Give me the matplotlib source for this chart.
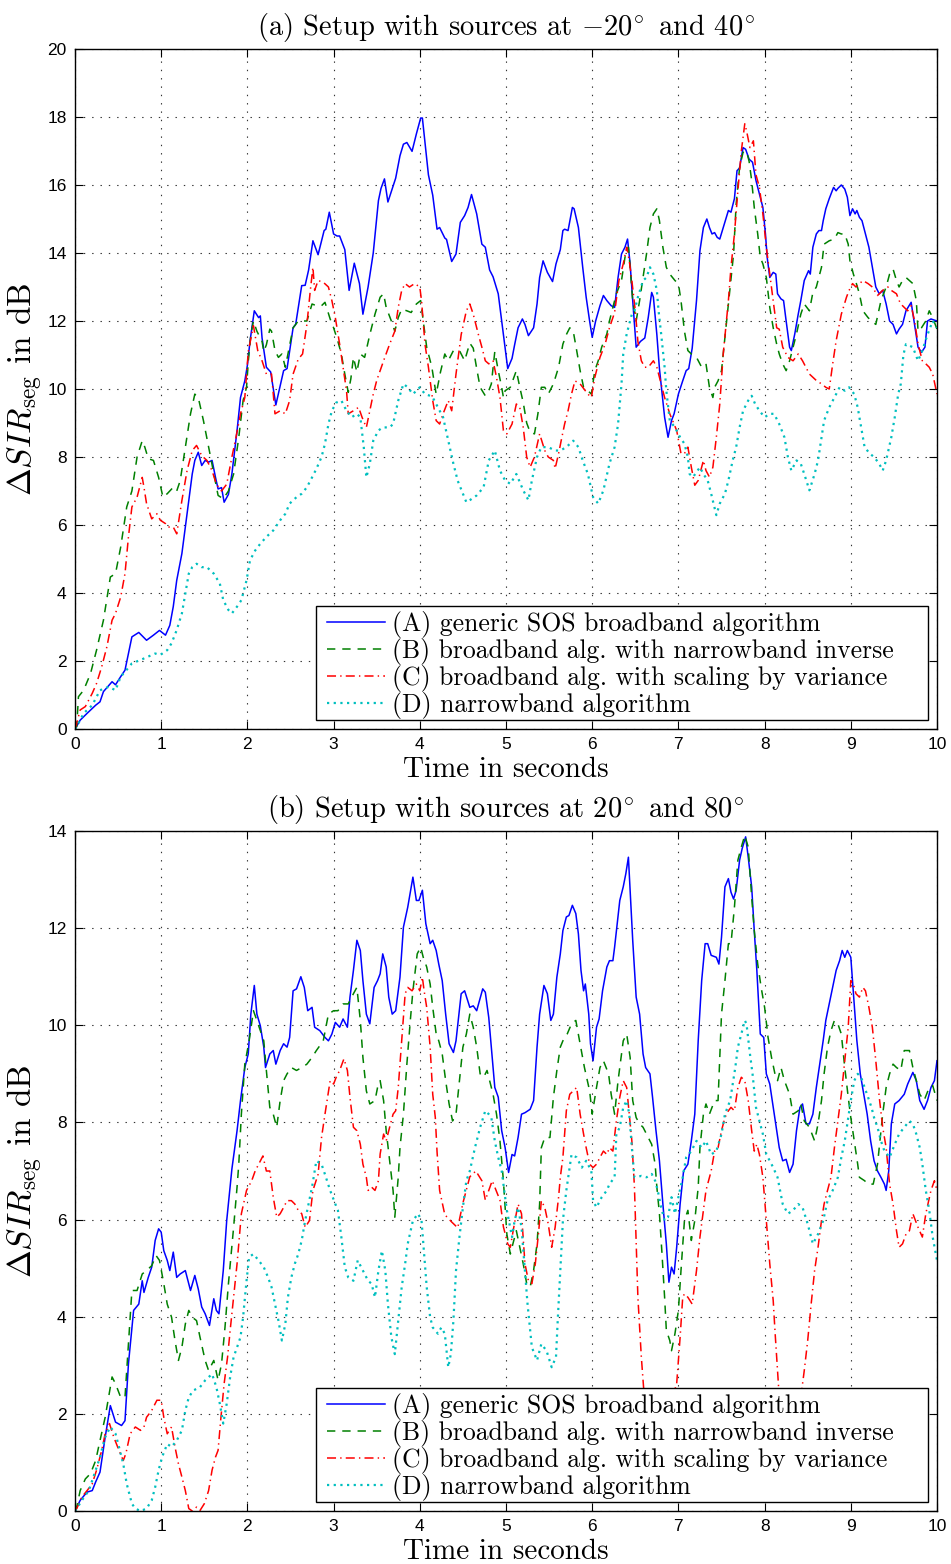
import matplotlib
matplotlib.use("Agg")
import matplotlib.pyplot as plt
from matplotlib.patches import Rectangle
from matplotlib.ticker import MultipleLocator

plt.rcParams["mathtext.fontset"] = "cm"
plt.rcParams["lines.scale_dashes"] = False

# ---------------- (a) sources at -20 and 40 degrees ----------------
a_t_A = [0, 0.06, 0.14, 0.24, 0.29, 0.33, 0.43, 0.47, 0.53, 0.58, 0.62, 0.66, 0.74, 0.83, 0.91, 0.98,
         1.05, 1.10, 1.14, 1.18, 1.24, 1.30, 1.36, 1.39, 1.43, 1.47, 1.51, 1.55, 1.59, 1.63, 1.66, 1.70,
         1.73, 1.78, 1.82, 1.88, 1.92, 1.97, 2.00, 2.03, 2.08, 2.13, 2.15, 2.17, 2.22, 2.27, 2.33, 2.42,
         2.46, 2.53, 2.56, 2.63, 2.67, 2.71, 2.76, 2.82, 2.89, 2.91, 2.95, 3.00, 3.04, 3.07, 3.13, 3.18,
         3.24, 3.30, 3.34, 3.40, 3.46, 3.52, 3.55, 3.59, 3.63, 3.72, 3.77, 3.81, 3.85, 3.91, 3.96, 4.01,
         4.03, 4.10, 4.15, 4.20, 4.23, 4.29, 4.31, 4.37, 4.42, 4.47, 4.52, 4.56, 4.60, 4.66, 4.72, 4.76,
         4.81, 4.85, 4.91, 4.95, 4.99, 5.02, 5.07, 5.10, 5.14, 5.19, 5.22, 5.26, 5.32, 5.36, 5.39, 5.43,
         5.48, 5.54, 5.58, 5.63, 5.66, 5.68, 5.72, 5.77, 5.79, 5.84, 5.89, 5.93, 5.97, 6.00, 6.04, 6.09,
         6.13, 6.17, 6.22, 6.26, 6.30, 6.34, 6.38, 6.41, 6.44, 6.47, 6.51, 6.56, 6.61, 6.65, 6.69, 6.71,
         6.75, 6.78, 6.82, 6.84, 6.88, 6.92, 6.95, 7.00, 7.05, 7.09, 7.12, 7.16, 7.21, 7.25, 7.29, 7.33,
         7.36, 7.39, 7.42, 7.45, 7.48, 7.52, 7.58, 7.61, 7.65, 7.68, 7.71, 7.75, 7.78, 7.82, 7.86, 7.90,
         7.94, 7.98, 8.01, 8.03, 8.06, 8.10, 8.13, 8.15, 8.19, 8.22, 8.25, 8.29, 8.31, 8.35, 8.39, 8.42,
         8.46, 8.51, 8.53, 8.56, 8.60, 8.63, 8.66, 8.68, 8.71, 8.75, 8.80, 8.83, 8.85, 8.89, 8.93, 8.96,
         8.99, 9.02, 9.05, 9.07, 9.10, 9.13, 9.17, 9.21, 9.25, 9.29, 9.33, 9.37, 9.41, 9.45, 9.49, 9.53,
         9.56, 9.60, 9.64, 9.70, 9.74, 9.78, 9.82, 9.86, 9.89, 9.93, 10.0]
a_A = [0, 0.26, 0.46, 0.70, 0.80, 1.10, 1.39, 1.30, 1.54, 1.73, 2.22, 2.71, 2.84, 2.61, 2.76, 2.90,
       2.76, 3.05, 3.60, 4.37, 5.16, 6.33, 7.50, 7.90, 8.14, 7.75, 7.90, 7.85, 7.90, 7.40, 7.06, 7.10,
       6.67, 6.90, 7.50, 8.78, 9.75, 10.24, 10.70, 11.40, 12.30, 12.10, 12.15, 11.50, 10.64, 10.50, 9.53, 10.54,
       10.60, 11.80, 11.90, 13.04, 13.05, 13.50, 14.36, 13.95, 14.66, 14.70, 15.20, 14.56, 14.50, 14.50, 14.10, 12.90,
       13.70, 13.10, 12.20, 13.00, 14.00, 15.54, 15.90, 16.18, 15.50, 16.20, 16.86, 17.20, 17.25, 16.99, 17.50, 17.97,
       17.97, 16.30, 15.70, 14.70, 14.75, 14.44, 14.40, 13.75, 13.97, 14.90, 15.10, 15.34, 15.72, 15.15, 14.26, 14.17,
       13.50, 13.30, 12.80, 12.00, 11.20, 10.60, 10.90, 11.30, 11.80, 12.06, 11.90, 11.57, 11.80, 12.50, 13.28, 13.77,
       13.43, 13.16, 13.68, 14.10, 14.66, 14.70, 14.66, 15.34, 15.30, 14.75, 13.58, 12.70, 12.00, 11.52, 12.00, 12.45,
       12.75, 12.60, 12.45, 12.40, 13.28, 13.97, 14.17, 14.41, 13.68, 12.60, 11.23, 11.40, 11.50, 12.10, 12.84, 12.70,
       11.60, 10.60, 9.66, 9.17, 8.58, 9.07, 9.27, 9.85, 10.24, 10.54, 10.60, 11.20, 12.60, 14.07, 14.75, 15.00,
       14.75, 14.56, 14.60, 14.46, 14.41, 14.75, 15.25, 15.20, 15.60, 16.42, 16.50, 17.10, 17.05, 16.76, 16.67, 16.13,
       15.74, 15.34, 14.56, 13.87, 13.28, 13.43, 13.38, 12.80, 12.65, 12.60, 12.00, 11.23, 11.13, 11.62, 12.20, 12.60,
       13.19, 13.48, 13.38, 14.17, 14.56, 14.66, 14.66, 14.95, 15.30, 15.60, 15.93, 15.83, 15.90, 16.00, 15.88, 15.64,
       15.10, 15.30, 15.15, 15.25, 15.05, 14.95, 14.56, 14.17, 13.58, 13.00, 12.80, 12.90, 12.50, 12.00, 11.90, 11.62,
       11.76, 11.90, 12.30, 12.55, 11.90, 11.23, 11.08, 11.23, 12.00, 12.06, 12.00]

a_t_B = [0, 0.02, 0.04, 0.10, 0.18, 0.25, 0.33, 0.41, 0.47, 0.53, 0.60, 0.66, 0.72, 0.78, 0.81, 0.85,
         0.91, 0.97, 1.02, 1.07, 1.14, 1.18, 1.22, 1.28, 1.34, 1.39, 1.43, 1.49, 1.55, 1.61, 1.66, 1.72,
         1.78, 1.84, 1.90, 1.95, 1.99, 2.01, 2.04, 2.07, 2.11, 2.17, 2.19, 2.22, 2.26, 2.28, 2.32, 2.36,
         2.40, 2.44, 2.47, 2.53, 2.59, 2.63, 2.69, 2.75, 2.80, 2.86, 2.90, 2.96, 3.00, 3.05, 3.09, 3.13,
         3.17, 3.20, 3.23, 3.27, 3.31, 3.36, 3.42, 3.48, 3.54, 3.58, 3.61, 3.67, 3.71, 3.75, 3.79, 3.85,
         3.90, 3.96, 4.01, 4.04, 4.08, 4.14, 4.17, 4.19, 4.24, 4.29, 4.33, 4.39, 4.46, 4.52, 4.58, 4.62,
         4.66, 4.70, 4.76, 4.80, 4.83, 4.87, 4.91, 4.95, 4.97, 4.99, 5.05, 5.12, 5.16, 5.20, 5.24, 5.28,
         5.33, 5.37, 5.41, 5.45, 5.49, 5.55, 5.61, 5.66, 5.70, 5.74, 5.78, 5.82, 5.86, 5.90, 5.93, 5.99,
         6.03, 6.07, 6.11, 6.17, 6.20, 6.24, 6.28, 6.34, 6.38, 6.42, 6.44, 6.47, 6.51, 6.55, 6.59, 6.63,
         6.67, 6.71, 6.75, 6.78, 6.82, 6.86, 6.90, 6.96, 7.00, 7.03, 7.07, 7.11, 7.15, 7.21, 7.27, 7.32,
         7.36, 7.40, 7.42, 7.46, 7.50, 7.56, 7.60, 7.64, 7.67, 7.71, 7.75, 7.79, 7.82, 7.85, 7.88, 7.92,
         7.95, 7.98, 8.02, 8.06, 8.10, 8.14, 8.17, 8.21, 8.25, 8.29, 8.33, 8.37, 8.42, 8.46, 8.52, 8.56,
         8.60, 8.66, 8.69, 8.75, 8.81, 8.85, 8.89, 8.93, 8.97, 8.99, 9.03, 9.06, 9.10, 9.14, 9.20, 9.24,
         9.29, 9.35, 9.41, 9.45, 9.49, 9.53, 9.56, 9.60, 9.64, 9.68, 9.72, 9.76, 9.78, 9.82, 9.87, 9.91,
         9.95, 10.0]
a_B = [0, 0.07, 0.95, 1.14, 1.63, 2.32, 3.20, 4.47, 4.57, 5.35, 6.53, 7.00, 8.00, 8.48, 8.29, 7.95,
       7.90, 7.40, 6.82, 6.92, 7.11, 7.00, 7.30, 8.29, 9.27, 9.85, 9.75, 9.07, 8.29, 7.50, 6.87, 6.77,
       7.00, 7.50, 8.58, 9.66, 10.05, 10.80, 11.60, 12.00, 11.70, 11.40, 11.10, 11.30, 11.76, 11.70, 11.13, 10.93,
       11.03, 10.64, 11.03, 11.80, 12.00, 12.00, 12.00, 12.50, 12.45, 12.45, 12.55, 12.06, 11.80, 11.40, 11.03, 10.44,
       9.90, 10.30, 10.93, 10.50, 11.03, 10.93, 11.60, 12.20, 12.70, 12.80, 12.40, 12.00, 11.70, 12.10, 12.35, 12.30,
       12.25, 12.50, 12.60, 12.00, 11.23, 10.64, 10.15, 9.85, 10.50, 11.03, 10.83, 11.13, 11.13, 10.83, 11.35, 11.20,
       10.60, 10.05, 9.80, 9.95, 10.15, 11.10, 10.54, 10.05, 9.75, 9.95, 10.05, 10.54, 10.05, 9.60, 9.00, 8.73,
       8.68, 9.27, 10.05, 10.05, 9.85, 10.15, 10.64, 11.32, 11.60, 11.80, 11.70, 11.13, 10.54, 10.05, 10.00, 9.85,
       10.54, 10.83, 11.23, 11.62, 12.00, 12.40, 12.80, 13.19, 13.87, 14.17, 13.58, 12.60, 12.00, 12.60, 13.28, 13.97,
       14.75, 15.15, 15.30, 14.95, 14.17, 13.58, 13.38, 13.19, 13.10, 12.60, 11.70, 11.13, 11.03, 10.93, 10.64, 10.74,
       10.05, 9.75, 10.05, 10.24, 10.54, 12.00, 13.00, 13.97, 15.44, 16.52, 16.96, 17.00, 16.70, 16.13, 15.34, 14.56,
       13.87, 13.68, 13.28, 12.40, 11.80, 11.32, 11.03, 10.74, 10.54, 10.83, 11.23, 11.62, 12.20, 12.50, 12.30, 12.84,
       13.00, 13.58, 14.26, 14.36, 14.41, 14.60, 14.56, 14.56, 14.26, 13.77, 13.38, 13.14, 12.80, 12.30, 12.10, 12.00,
       11.90, 12.60, 13.00, 13.38, 13.53, 13.19, 13.00, 13.19, 13.28, 13.19, 13.10, 12.60, 11.70, 11.80, 12.00, 12.30,
       12.10, 11.76]

a_t_C = [0, 0.02, 0.06, 0.12, 0.20, 0.25, 0.31, 0.37, 0.43, 0.47, 0.53, 0.58, 0.62, 0.66, 0.72, 0.78,
         0.80, 0.83, 0.89, 0.95, 0.99, 1.05, 1.08, 1.14, 1.18, 1.24, 1.30, 1.36, 1.41, 1.47, 1.53, 1.59,
         1.64, 1.70, 1.76, 1.82, 1.86, 1.92, 1.97, 2.01, 2.07, 2.12, 2.17, 2.22, 2.28, 2.32, 2.38, 2.44,
         2.49, 2.53, 2.59, 2.64, 2.69, 2.73, 2.76, 2.78, 2.82, 2.88, 2.94, 2.98, 3.02, 3.07, 3.11, 3.15,
         3.17, 3.23, 3.29, 3.33, 3.38, 3.42, 3.46, 3.50, 3.58, 3.65, 3.71, 3.75, 3.79, 3.83, 3.88, 3.94,
         4.00, 4.02, 4.06, 4.10, 4.15, 4.19, 4.23, 4.27, 4.33, 4.37, 4.42, 4.48, 4.54, 4.58, 4.62, 4.68,
         4.72, 4.76, 4.80, 4.85, 4.89, 4.93, 4.97, 5.01, 5.07, 5.12, 5.16, 5.20, 5.24, 5.28, 5.33, 5.39,
         5.45, 5.49, 5.55, 5.57, 5.61, 5.64, 5.68, 5.72, 5.76, 5.80, 5.86, 5.92, 5.95, 5.99, 6.03, 6.09,
         6.15, 6.20, 6.26, 6.31, 6.36, 6.40, 6.43, 6.46, 6.50, 6.53, 6.57, 6.61, 6.65, 6.71, 6.75, 6.80,
         6.84, 6.90, 6.98, 7.03, 7.07, 7.11, 7.15, 7.19, 7.23, 7.29, 7.32, 7.36, 7.40, 7.44, 7.48, 7.52,
         7.58, 7.61, 7.65, 7.69, 7.73, 7.77, 7.79, 7.83, 7.87, 7.90, 7.94, 7.98, 8.02, 8.06, 8.10, 8.14,
         8.17, 8.21, 8.27, 8.33, 8.39, 8.44, 8.52, 8.60, 8.66, 8.71, 8.75, 8.79, 8.83, 8.89, 8.95, 8.98,
         9.02, 9.06, 9.14, 9.20, 9.25, 9.31, 9.37, 9.43, 9.47, 9.53, 9.56, 9.60, 9.66, 9.70, 9.74, 9.78,
         9.83, 9.87, 9.91, 9.95, 10.0]
a_C = [0, 0.17, 0.56, 0.66, 1.05, 1.34, 1.83, 2.42, 3.20, 3.40, 3.88, 4.57, 5.65, 6.53, 6.82, 7.40,
       7.11, 6.63, 6.18, 6.33, 6.14, 6.04, 5.94, 5.94, 5.74, 6.72, 7.60, 8.19, 8.34, 8.04, 7.90, 7.60,
       7.20, 7.00, 7.20, 8.00, 8.48, 9.27, 9.75, 11.10, 11.86, 11.13, 10.83, 10.44, 10.44, 9.27, 9.36, 9.27,
       9.66, 10.44, 10.88, 11.03, 11.90, 12.90, 13.58, 12.90, 13.19, 13.14, 13.00, 12.60, 12.10, 11.32, 10.64, 9.95,
       9.27, 9.36, 9.46, 9.17, 8.87, 9.36, 9.85, 10.25, 10.83, 11.32, 11.70, 12.40, 12.90, 13.10, 13.00, 13.10,
       13.00, 12.60, 11.32, 10.64, 9.66, 9.07, 8.97, 9.27, 9.66, 9.36, 10.44, 11.60, 12.30, 12.50, 12.20, 11.60,
       11.23, 10.83, 10.74, 10.83, 10.34, 9.75, 8.78, 8.68, 8.97, 9.56, 9.46, 8.87, 8.00, 7.70, 8.00, 8.68,
       8.19, 8.00, 7.90, 7.66, 8.10, 8.48, 8.97, 9.36, 9.85, 10.24, 10.15, 9.95, 9.85, 9.75, 10.34, 10.93,
       11.32, 11.80, 12.25, 13.19, 13.68, 14.17, 13.77, 13.19, 12.30, 11.40, 10.83, 10.64, 10.64, 10.83, 10.64, 10.15,
       9.75, 9.27, 8.78, 8.10, 8.10, 8.29, 7.70, 7.17, 7.31, 7.90, 7.60, 7.41, 7.70, 8.58, 9.56, 11.03,
       12.60, 13.58, 14.56, 15.83, 17.00, 17.80, 17.60, 17.10, 17.30, 16.30, 15.93, 15.15, 14.17, 13.38, 12.60, 11.80,
       11.76, 11.23, 10.93, 10.83, 11.03, 10.83, 10.44, 10.25, 10.15, 10.05, 10.00, 10.74, 11.42, 12.20, 12.70, 12.90,
       13.10, 13.00, 13.19, 13.10, 13.00, 12.75, 12.90, 13.00, 12.90, 12.80, 12.60, 12.45, 12.30, 12.45, 12.00, 11.32,
       10.83, 10.74, 10.64, 10.44, 9.85]

a_t_D = [0, 0.02, 0.10, 0.20, 0.29, 0.39, 0.47, 0.53, 0.58, 0.66, 0.76, 0.85, 0.93, 0.99, 1.07, 1.12,
         1.18, 1.24, 1.28, 1.32, 1.36, 1.41, 1.47, 1.53, 1.61, 1.68, 1.72, 1.78, 1.82, 1.88, 1.93, 1.99,
         2.03, 2.09, 2.15, 2.22, 2.30, 2.38, 2.44, 2.49, 2.57, 2.63, 2.69, 2.75, 2.80, 2.86, 2.90, 2.94,
         2.98, 3.03, 3.09, 3.15, 3.21, 3.27, 3.31, 3.35, 3.38, 3.42, 3.46, 3.52, 3.57, 3.65, 3.69, 3.75,
         3.81, 3.86, 3.92, 4.00, 4.06, 4.12, 4.15, 4.21, 4.27, 4.33, 4.39, 4.44, 4.50, 4.54, 4.58, 4.66,
         4.74, 4.80, 4.87, 4.93, 4.99, 5.05, 5.12, 5.20, 5.26, 5.30, 5.36, 5.41, 5.49, 5.57, 5.63, 5.70,
         5.78, 5.84, 5.89, 5.95, 6.01, 6.07, 6.13, 6.20, 6.26, 6.30, 6.32, 6.34, 6.36, 6.40, 6.46, 6.49,
         6.53, 6.59, 6.63, 6.67, 6.71, 6.75, 6.77, 6.80, 6.84, 6.86, 6.90, 6.96, 7.02, 7.07, 7.11, 7.13,
         7.17, 7.25, 7.29, 7.34, 7.38, 7.44, 7.48, 7.54, 7.58, 7.63, 7.67, 7.71, 7.75, 7.81, 7.85, 7.89,
         7.94, 8.00, 8.06, 8.11, 8.17, 8.23, 8.27, 8.31, 8.37, 8.42, 8.46, 8.52, 8.58, 8.62, 8.66, 8.69,
         8.75, 8.81, 8.87, 8.93, 8.98, 9.04, 9.08, 9.12, 9.16, 9.22, 9.27, 9.33, 9.37, 9.41, 9.47, 9.51,
         9.55, 9.58, 9.61, 9.64, 9.72, 9.78, 9.83, 9.89, 9.95, 10.0]
a_D = [0, 0.07, 0.46, 0.70, 1.14, 1.24, 1.14, 1.54, 1.68, 1.93, 2.03, 2.13, 2.22, 2.18, 2.32, 2.52,
       2.91, 3.40, 3.98, 4.57, 4.76, 4.86, 4.76, 4.76, 4.57, 4.28, 3.79, 3.50, 3.40, 3.60, 3.79, 4.37,
       4.96, 5.25, 5.45, 5.65, 5.84, 6.14, 6.33, 6.63, 6.82, 6.92, 7.11, 7.40, 7.65, 8.00, 8.39, 8.97,
       9.36, 9.60, 9.66, 9.36, 9.17, 9.27, 9.17, 8.29, 7.40, 7.80, 8.48, 8.78, 8.87, 8.87, 8.97, 9.66,
       10.15, 10.05, 9.85, 10.05, 9.85, 9.80, 9.75, 9.46, 9.17, 8.48, 7.80, 7.30, 6.92, 6.67, 6.73, 6.87,
       7.11, 7.90, 8.19, 7.60, 7.31, 7.21, 7.50, 7.02, 6.73, 7.31, 8.00, 8.29, 8.29, 8.19, 8.19, 8.29,
       8.48, 8.29, 7.90, 7.50, 6.82, 6.63, 7.02, 7.80, 8.29, 8.97, 9.56, 10.15, 11.03, 11.62, 12.20, 12.30,
       12.70, 13.19, 13.28, 13.58, 13.38, 12.90, 12.30, 11.62, 10.64, 9.95, 9.07, 8.87, 8.58, 8.39, 8.00, 7.50,
       7.41, 7.70, 7.50, 7.31, 6.92, 6.29, 6.63, 6.92, 7.31, 7.90, 8.29, 8.87, 9.36, 9.66, 9.80, 9.56,
       9.36, 9.17, 9.27, 9.27, 8.97, 8.58, 8.00, 7.60, 7.90, 7.80, 7.50, 7.02, 7.50, 7.90, 8.58, 9.07,
       9.46, 9.75, 10.05, 9.95, 10.05, 9.85, 9.46, 8.87, 8.29, 8.10, 8.00, 7.80, 7.60, 7.90, 8.58, 9.17,
       9.85, 10.15, 11.00, 11.32, 11.23, 10.83, 11.13, 11.60, 12.00, 11.80]

# ---------------- (b) sources at 20 and 80 degrees ----------------
b_t_A = [0, 0.06, 0.14, 0.20, 0.24, 0.29, 0.35, 0.41, 0.47, 0.54, 0.58, 0.62, 0.68, 0.74, 0.78, 0.80,
         0.85, 0.89, 0.93, 0.97, 1.00, 1.03, 1.07, 1.10, 1.14, 1.18, 1.22, 1.28, 1.34, 1.39, 1.43, 1.47,
         1.51, 1.56, 1.61, 1.64, 1.67, 1.72, 1.76, 1.82, 1.88, 1.92, 1.97, 2.01, 2.04, 2.08, 2.11, 2.15,
         2.19, 2.21, 2.26, 2.30, 2.33, 2.38, 2.42, 2.46, 2.49, 2.53, 2.57, 2.62, 2.66, 2.70, 2.75, 2.78,
         2.84, 2.90, 2.94, 2.98, 3.02, 3.07, 3.11, 3.16, 3.19, 3.23, 3.27, 3.31, 3.34, 3.38, 3.42, 3.47,
         3.51, 3.54, 3.57, 3.61, 3.64, 3.68, 3.72, 3.77, 3.81, 3.86, 3.92, 3.96, 3.99, 4.03, 4.07, 4.12,
         4.15, 4.19, 4.22, 4.26, 4.30, 4.34, 4.39, 4.42, 4.48, 4.52, 4.58, 4.62, 4.66, 4.73, 4.76, 4.80,
         4.83, 4.87, 4.91, 4.95, 4.99, 5.03, 5.07, 5.10, 5.14, 5.18, 5.22, 5.28, 5.32, 5.36, 5.39, 5.44,
         5.48, 5.52, 5.55, 5.59, 5.63, 5.66, 5.70, 5.73, 5.77, 5.81, 5.84, 5.87, 5.90, 5.92, 5.96, 5.98,
         6.01, 6.05, 6.08, 6.12, 6.17, 6.20, 6.24, 6.26, 6.29, 6.32, 6.36, 6.39, 6.42, 6.44, 6.47, 6.51,
         6.55, 6.59, 6.62, 6.67, 6.70, 6.74, 6.78, 6.82, 6.86, 6.89, 6.92, 6.95, 6.98, 7.02, 7.06, 7.11,
         7.15, 7.19, 7.23, 7.27, 7.31, 7.34, 7.38, 7.44, 7.47, 7.50, 7.54, 7.58, 7.61, 7.64, 7.67, 7.71,
         7.74, 7.78, 7.81, 7.85, 7.88, 7.91, 7.95, 7.99, 8.02, 8.06, 8.10, 8.14, 8.17, 8.21, 8.25, 8.29,
         8.33, 8.37, 8.41, 8.44, 8.48, 8.52, 8.56, 8.60, 8.64, 8.68, 8.71, 8.75, 8.79, 8.83, 8.87, 8.90,
         8.93, 8.96, 9.00, 9.02, 9.05, 9.07, 9.11, 9.15, 9.19, 9.23, 9.27, 9.31, 9.35, 9.39, 9.41, 9.44,
         9.47, 9.51, 9.56, 9.62, 9.66, 9.72, 9.76, 9.80, 9.85, 9.89, 9.93, 9.97, 10.0]
b_A = [0, 0.22, 0.39, 0.42, 0.60, 0.80, 1.52, 2.17, 1.83, 1.76, 1.86, 3.03, 4.13, 4.26, 4.74, 4.50,
       4.81, 5.02, 5.57, 5.81, 5.74, 5.36, 5.16, 4.95, 5.33, 4.81, 4.88, 4.95, 4.54, 4.85, 4.57, 4.20,
       4.06, 3.82, 4.37, 4.13, 4.06, 4.95, 5.98, 7.04, 7.83, 8.45, 9.13, 9.41, 10.23, 10.82, 10.23, 9.99,
       9.55, 9.13, 9.41, 9.48, 9.20, 9.48, 9.62, 9.55, 9.75, 10.71, 10.75, 11.00, 10.78, 10.30, 10.37, 9.96,
       9.89, 9.75, 9.68, 9.82, 10.06, 9.96, 10.13, 9.96, 10.58, 11.13, 11.75, 11.54, 10.92, 10.23, 10.03, 10.78,
       10.92, 11.06, 11.47, 11.20, 10.58, 10.23, 10.30, 10.99, 12.02, 12.43, 13.05, 12.57, 12.57, 12.78, 12.09, 11.68,
       11.75, 11.54, 11.26, 10.92, 10.23, 9.62, 9.44, 9.68, 10.65, 10.71, 10.37, 10.40, 10.30, 10.75, 10.68, 10.16,
       9.55, 8.72, 8.52, 7.83, 7.48, 6.97, 7.34, 7.31, 7.69, 8.17, 8.20, 8.27, 8.45, 9.55, 10.23, 10.82,
       10.65, 10.10, 10.23, 10.99, 11.47, 11.95, 12.23, 12.26, 12.47, 12.30, 11.88, 11.13, 10.71, 10.85, 10.23, 9.62,
       9.27, 9.96, 10.13, 10.71, 11.20, 11.33, 11.33, 11.61, 12.09, 12.57, 12.85, 13.12, 13.46, 12.78, 11.75, 10.58,
       10.23, 9.41, 9.13, 9.00, 8.52, 7.83, 7.21, 6.32, 5.50, 4.71, 5.02, 4.88, 5.43, 6.32, 7.00, 7.14,
       7.62, 8.17, 9.69, 10.92, 11.68, 11.68, 11.44, 11.40, 11.26, 11.81, 12.85, 13.02, 12.74, 12.60, 12.78, 13.40,
       13.64, 13.88, 13.46, 12.85, 11.95, 11.13, 9.82, 9.75, 9.00, 8.79, 8.31, 7.83, 7.48, 7.21, 7.24, 6.97,
       7.14, 7.83, 8.31, 8.38, 7.97, 7.97, 8.17, 8.72, 9.20, 9.69, 10.10, 10.44, 10.78, 11.13, 11.33, 11.54,
       11.40, 11.54, 11.40, 10.92, 10.23, 9.69, 9.00, 8.58, 8.17, 7.62, 7.21, 7.00, 6.87, 6.73, 6.60, 7.00,
       7.97, 8.38, 8.45, 8.58, 8.79, 9.03, 8.86, 8.45, 8.27, 8.45, 8.72, 8.86, 9.27]

b_t_B = [0, 0.02, 0.06, 0.12, 0.18, 0.24, 0.29, 0.35, 0.39, 0.43, 0.47, 0.53, 0.58, 0.62, 0.66, 0.72,
         0.78, 0.83, 0.89, 0.94, 0.98, 1.03, 1.07, 1.12, 1.16, 1.20, 1.24, 1.28, 1.32, 1.36, 1.41, 1.45,
         1.51, 1.55, 1.61, 1.66, 1.70, 1.74, 1.78, 1.84, 1.88, 1.90, 1.93, 1.97, 2.02, 2.07, 2.11, 2.15,
         2.19, 2.22, 2.26, 2.30, 2.34, 2.38, 2.42, 2.46, 2.51, 2.57, 2.63, 2.69, 2.75, 2.80, 2.88, 2.94,
         3.00, 3.05, 3.11, 3.17, 3.23, 3.27, 3.31, 3.34, 3.38, 3.42, 3.48, 3.51, 3.54, 3.58, 3.61, 3.65,
         3.69, 3.71, 3.75, 3.77, 3.81, 3.85, 3.89, 3.92, 3.97, 4.01, 4.04, 4.08, 4.12, 4.15, 4.19, 4.22,
         4.26, 4.30, 4.34, 4.38, 4.42, 4.46, 4.50, 4.54, 4.58, 4.62, 4.66, 4.70, 4.74, 4.78, 4.81, 4.85,
         4.89, 4.93, 4.97, 5.01, 5.05, 5.08, 5.12, 5.16, 5.20, 5.24, 5.28, 5.32, 5.36, 5.39, 5.41, 5.45,
         5.51, 5.55, 5.59, 5.63, 5.66, 5.71, 5.76, 5.81, 5.86, 5.91, 5.97, 6.00, 6.05, 6.09, 6.13, 6.19,
         6.22, 6.26, 6.30, 6.36, 6.40, 6.44, 6.47, 6.51, 6.55, 6.59, 6.63, 6.69, 6.73, 6.75, 6.78, 6.81,
         6.84, 6.86, 6.90, 6.92, 6.96, 7.00, 7.03, 7.07, 7.11, 7.15, 7.19, 7.23, 7.25, 7.29, 7.32, 7.36,
         7.42, 7.46, 7.50, 7.54, 7.58, 7.61, 7.65, 7.69, 7.73, 7.77, 7.81, 7.85, 7.88, 7.92, 7.96, 8.00,
         8.04, 8.08, 8.12, 8.15, 8.19, 8.23, 8.29, 8.33, 8.39, 8.42, 8.46, 8.52, 8.58, 8.62, 8.66, 8.69,
         8.73, 8.77, 8.81, 8.85, 8.89, 8.93, 8.97, 9.00, 9.04, 9.08, 9.10, 9.16, 9.20, 9.26, 9.31, 9.37,
         9.41, 9.45, 9.49, 9.53, 9.58, 9.62, 9.68, 9.72, 9.76, 9.80, 9.85, 9.91, 9.95, 10.0]
b_B = [0, 0.08, 0.42, 0.66, 0.77, 1.04, 1.45, 1.93, 2.34, 2.76, 2.62, 2.34, 2.34, 3.44, 4.54, 4.54,
       4.88, 4.95, 5.05, 5.26, 5.16, 4.68, 4.26, 3.99, 3.51, 3.10, 3.37, 3.85, 4.13, 3.99, 3.92, 3.58,
       3.10, 2.89, 3.10, 2.69, 3.03, 3.78, 4.68, 5.84, 6.67, 7.14, 8.17, 9.20, 9.68, 10.30, 10.10, 9.89,
       9.68, 9.07, 8.31, 8.17, 7.90, 8.45, 8.86, 9.00, 9.13, 9.07, 9.13, 9.20, 9.34, 9.48, 9.68, 10.23,
       10.30, 10.30, 10.44, 10.44, 10.65, 10.78, 10.10, 9.34, 8.65, 8.38, 8.45, 8.72, 8.86, 8.45, 7.83, 7.21,
       6.60, 6.05, 6.87, 7.48, 8.17, 9.20, 10.10, 10.71, 11.47, 11.61, 11.40, 11.20, 10.85, 10.37, 9.82, 9.68,
       9.41, 8.86, 8.38, 8.03, 8.17, 8.86, 9.55, 9.82, 10.23, 9.96, 9.55, 9.00, 8.93, 9.07, 8.86, 8.58,
       8.17, 7.62, 6.80, 5.70, 5.29, 5.50, 5.77, 5.43, 5.09, 4.68, 4.61, 4.95, 5.50, 6.32, 7.48, 7.69,
       7.69, 8.52, 9.07, 9.55, 9.68, 9.82, 10.03, 10.10, 9.62, 9.13, 8.65, 8.17, 8.72, 9.13, 9.27, 9.00,
       8.58, 8.17, 8.86, 9.68, 9.82, 9.34, 8.45, 8.10, 7.97, 7.90, 7.76, 7.55, 7.14, 6.67, 6.12, 5.29,
       4.40, 3.72, 3.51, 3.30, 3.65, 4.13, 4.95, 5.98, 6.19, 5.57, 5.98, 6.67, 7.48, 8.17, 8.38, 8.17,
       8.45, 8.45, 10.23, 10.92, 11.68, 11.68, 12.43, 13.40, 13.67, 13.91, 13.67, 12.64, 11.95, 11.26, 10.78, 10.37,
       9.75, 9.34, 9.00, 8.86, 9.13, 8.86, 8.58, 8.17, 8.24, 8.38, 8.03, 7.90, 7.62, 7.97, 8.45, 9.00,
       9.55, 9.89, 10.10, 10.03, 9.82, 9.13, 8.52, 8.10, 7.62, 7.14, 6.87, 6.80, 6.73, 6.73, 7.14, 8.17,
       8.72, 9.00, 9.20, 9.13, 9.07, 9.48, 9.48, 9.13, 8.86, 8.58, 8.45, 8.72, 8.76, 8.45]

b_t_C = [0, 0.02, 0.08, 0.14, 0.20, 0.25, 0.31, 0.35, 0.40, 0.45, 0.51, 0.56, 0.59, 0.64, 0.70, 0.76,
         0.80, 0.83, 0.89, 0.95, 1.00, 1.03, 1.07, 1.12, 1.16, 1.20, 1.24, 1.28, 1.32, 1.36, 1.41, 1.45,
         1.50, 1.55, 1.59, 1.63, 1.66, 1.69, 1.73, 1.77, 1.80, 1.84, 1.88, 1.93, 1.99, 2.05, 2.09, 2.13,
         2.18, 2.22, 2.26, 2.30, 2.34, 2.38, 2.42, 2.46, 2.51, 2.55, 2.59, 2.63, 2.67, 2.72, 2.76, 2.82,
         2.86, 2.90, 2.96, 3.00, 3.03, 3.07, 3.12, 3.16, 3.19, 3.23, 3.27, 3.31, 3.34, 3.38, 3.40, 3.44,
         3.48, 3.52, 3.54, 3.58, 3.61, 3.65, 3.69, 3.72, 3.75, 3.79, 3.83, 3.86, 3.91, 3.96, 4.00, 4.03,
         4.05, 4.08, 4.12, 4.15, 4.18, 4.20, 4.23, 4.29, 4.37, 4.44, 4.50, 4.58, 4.65, 4.72, 4.76, 4.84,
         4.93, 4.97, 5.02, 5.05, 5.09, 5.14, 5.18, 5.22, 5.26, 5.30, 5.34, 5.38, 5.41, 5.45, 5.49, 5.53,
         5.57, 5.61, 5.63, 5.66, 5.70, 5.74, 5.78, 5.82, 5.86, 5.90, 5.93, 5.97, 6.01, 6.05, 6.09, 6.13,
         6.17, 6.20, 6.24, 6.28, 6.32, 6.36, 6.40, 6.43, 6.46, 6.49, 6.53, 6.57, 6.61, 6.63, 6.70, 6.78,
         6.86, 6.92, 6.98, 7.02, 7.05, 7.07, 7.11, 7.16, 7.21, 7.25, 7.29, 7.32, 7.38, 7.42, 7.46, 7.50,
         7.54, 7.58, 7.61, 7.65, 7.69, 7.73, 7.77, 7.81, 7.85, 7.88, 7.91, 7.94, 7.98, 8.02, 8.06, 8.10,
         8.12, 8.15, 8.17, 8.24, 8.32, 8.42, 8.46, 8.50, 8.54, 8.58, 8.62, 8.66, 8.69, 8.73, 8.77, 8.81,
         8.85, 8.89, 8.93, 8.97, 9.00, 9.03, 9.06, 9.10, 9.14, 9.17, 9.21, 9.25, 9.29, 9.33, 9.37, 9.41,
         9.45, 9.49, 9.53, 9.56, 9.60, 9.64, 9.68, 9.72, 9.78, 9.83, 9.87, 9.93, 9.97, 10.0]
b_C = [0, 0.05, 0.29, 0.42, 0.56, 0.84, 1.25, 1.59, 1.80, 1.52, 1.25, 1.04, 1.18, 1.59, 1.73, 1.66,
       1.73, 1.93, 2.07, 2.28, 2.28, 1.93, 1.59, 1.73, 1.32, 0.97, 0.70, 0.42, 0.05, 0.00, 0.08, 0.01,
       0.15, 0.42, 0.84, 1.11, 1.25, 1.87, 2.62, 3.17, 3.72, 4.40, 5.09, 6.12, 6.60, 6.80, 7.00, 7.14,
       7.31, 7.00, 7.00, 6.46, 6.05, 6.12, 6.25, 6.39, 6.39, 6.32, 6.19, 6.12, 5.84, 5.98, 6.60, 6.93,
       7.69, 8.17, 8.86, 8.79, 8.93, 9.07, 9.31, 9.07, 8.52, 7.90, 7.83, 7.55, 7.14, 6.87, 6.60, 6.67,
       6.60, 6.80, 7.35, 7.76, 7.62, 7.90, 8.17, 8.24, 8.72, 9.68, 10.65, 10.78, 10.71, 10.85, 10.71, 10.99,
       10.71, 10.37, 9.55, 8.58, 8.10, 7.40, 6.60, 6.10, 5.95, 5.83, 6.34, 6.88, 7.00, 6.80, 6.40, 6.80,
       6.40, 5.85, 5.50, 5.43, 5.84, 6.32, 6.12, 5.09, 4.74, 4.68, 5.09, 5.77, 6.39, 6.25, 5.91, 5.43,
       5.84, 6.46, 6.87, 7.28, 8.24, 8.58, 8.65, 8.72, 8.17, 7.76, 7.48, 7.14, 7.07, 7.14, 7.28, 7.41,
       7.34, 7.48, 7.41, 8.03, 8.52, 8.86, 8.72, 8.17, 7.62, 6.67, 4.40, 3.17, 2.21, 1.52, 0.90, 0.80,
       1.40, 2.28, 2.62, 3.58, 4.40, 4.47, 4.40, 4.26, 4.95, 5.64, 6.19, 6.60, 7.00, 7.41, 7.48, 7.83,
       8.10, 8.24, 8.31, 8.24, 8.72, 8.93, 8.86, 8.45, 7.83, 7.41, 7.55, 7.34, 6.87, 5.98, 5.09, 4.33,
       3.72, 2.89, 2.34, 1.20, 0.90, 2.34, 2.89, 3.51, 4.26, 4.95, 5.43, 5.98, 6.32, 6.60, 6.87, 7.48,
       8.03, 8.58, 9.27, 9.96, 10.92, 10.85, 10.65, 10.58, 10.78, 10.71, 10.37, 9.96, 9.27, 8.52, 7.90, 7.48,
       6.73, 6.32, 5.77, 5.43, 5.50, 5.70, 5.77, 6.12, 5.84, 5.64, 6.12, 6.60, 6.80, 6.60]

b_t_D = [0, 0.02, 0.08, 0.16, 0.24, 0.29, 0.35, 0.41, 0.47, 0.51, 0.56, 0.60, 0.66, 0.70, 0.76, 0.83,
         0.89, 0.93, 0.97, 1.01, 1.07, 1.12, 1.18, 1.24, 1.28, 1.32, 1.37, 1.45, 1.51, 1.59, 1.64, 1.68,
         1.72, 1.76, 1.80, 1.84, 1.88, 1.92, 1.95, 1.99, 2.02, 2.07, 2.13, 2.19, 2.24, 2.28, 2.32, 2.36,
         2.40, 2.44, 2.47, 2.51, 2.55, 2.59, 2.63, 2.67, 2.71, 2.75, 2.80, 2.86, 2.90, 2.96, 3.02, 3.05,
         3.09, 3.13, 3.17, 3.23, 3.28, 3.34, 3.40, 3.44, 3.48, 3.52, 3.56, 3.60, 3.63, 3.67, 3.71, 3.75,
         3.79, 3.83, 3.86, 3.92, 3.98, 4.02, 4.05, 4.08, 4.12, 4.15, 4.21, 4.25, 4.29, 4.33, 4.36, 4.39,
         4.42, 4.46, 4.50, 4.54, 4.58, 4.64, 4.70, 4.76, 4.80, 4.83, 4.87, 4.91, 4.95, 5.01, 5.07, 5.10,
         5.14, 5.18, 5.22, 5.25, 5.28, 5.30, 5.36, 5.41, 5.47, 5.53, 5.58, 5.60, 5.63, 5.66, 5.70, 5.76,
         5.82, 5.88, 5.93, 5.99, 6.01, 6.05, 6.11, 6.17, 6.20, 6.26, 6.28, 6.32, 6.36, 6.40, 6.43, 6.46,
         6.49, 6.51, 6.57, 6.63, 6.69, 6.73, 6.76, 6.80, 6.84, 6.88, 6.92, 6.96, 7.00, 7.05, 7.09, 7.15,
         7.21, 7.27, 7.32, 7.38, 7.44, 7.50, 7.54, 7.60, 7.66, 7.69, 7.73, 7.77, 7.79, 7.83, 7.86, 7.90,
         7.94, 7.98, 8.02, 8.06, 8.10, 8.15, 8.21, 8.27, 8.33, 8.39, 8.44, 8.50, 8.56, 8.62, 8.68, 8.73,
         8.79, 8.85, 8.89, 8.93, 8.97, 9.00, 9.04, 9.08, 9.12, 9.16, 9.20, 9.24, 9.27, 9.31, 9.35, 9.39,
         9.45, 9.51, 9.56, 9.62, 9.68, 9.72, 9.76, 9.80, 9.83, 9.87, 9.91, 9.95, 10.0]
b_D = [0, 0.05, 0.22, 0.42, 0.84, 1.11, 1.52, 1.73, 1.59, 1.32, 0.97, 0.56, 0.15, 0.05, 0.00, 0.05,
       0.22, 0.49, 0.84, 1.11, 1.38, 1.32, 1.45, 1.66, 2.07, 2.34, 2.48, 2.55, 2.69, 2.82, 2.55, 2.21,
       1.80, 2.21, 2.76, 3.17, 3.37, 3.58, 3.99, 4.74, 5.23, 5.29, 5.16, 5.02, 4.81, 4.61, 4.26, 3.92,
       3.51, 3.85, 4.40, 4.81, 5.09, 5.29, 5.57, 5.98, 6.32, 6.67, 7.21, 7.14, 6.93, 6.60, 6.32, 6.19,
       5.64, 5.02, 4.81, 4.74, 5.16, 4.95, 4.74, 4.68, 4.40, 4.95, 5.36, 4.95, 4.26, 3.58, 3.23, 3.92,
       4.61, 5.09, 5.50, 5.98, 6.12, 5.98, 5.29, 4.61, 3.99, 3.78, 3.65, 3.78, 3.65, 2.96, 3.23, 3.92,
       4.95, 5.64, 6.25, 6.80, 7.00, 7.48, 7.90, 8.24, 8.17, 8.10, 7.62, 7.28, 7.00, 6.19, 5.64, 5.98,
       6.25, 5.84, 4.95, 4.26, 3.72, 3.37, 3.10, 3.44, 3.30, 2.96, 3.17, 3.92, 4.95, 5.98, 6.60, 7.34,
       7.28, 7.07, 7.21, 7.00, 6.39, 6.25, 6.46, 6.60, 6.73, 6.87, 7.76, 7.90, 8.31, 8.45, 8.17, 7.48,
       6.87, 6.87, 6.90, 6.87, 6.94, 6.80, 6.60, 6.25, 5.98, 6.05, 6.46, 6.12, 6.46, 6.87, 7.28, 7.41,
       7.62, 7.48, 7.62, 7.34, 7.41, 7.76, 8.17, 8.45, 9.13, 9.55, 9.82, 10.10, 10.03, 9.41, 9.00, 8.31,
       8.03, 7.76, 7.34, 7.21, 7.07, 6.87, 6.32, 6.12, 6.19, 6.32, 6.25, 5.91, 5.50, 5.70, 5.98, 6.39,
       6.60, 6.87, 7.28, 7.62, 8.10, 8.45, 8.86, 9.00, 8.93, 8.72, 8.52, 8.31, 8.10, 7.90, 7.62, 7.41,
       7.28, 7.55, 7.76, 7.90, 8.03, 7.97, 7.76, 7.48, 7.14, 6.60, 6.19, 5.64, 5.16]

legend_labels = [
    "(A) generic SOS broadband algorithm",
    "(B) broadband alg. with narrowband inverse",
    "(C) broadband alg. with scaling by variance",
    "(D) narrowband algorithm",
]
titles = [r"(a) Setup with sources at $-20^{\!\circ}$ and $40^{\!\circ}$",
          r"(b) Setup with sources at $20^{\!\circ}$ and $80^{\!\circ}$"]
y_limits = [20, 14]
x_ticks = list(range(0, 11))

styles = [
    dict(color=(0, 0, 1), linestyle="-", linewidth=1.1),
    dict(color=(0, 0.5, 0), linestyle=(0, (6, 5)), linewidth=1.1),
    dict(color=(1, 0, 0), linestyle=(0, (6.5, 3, 1, 3)), linewidth=1.1),
    dict(color=(0, 0.75, 0.75), linestyle=(0, (1.6, 3.2)), linewidth=1.6),
]

SERIF = "cmr10"
TICKFONT = "Liberation Sans"

W, H = 951, 1564
fig = plt.figure(figsize=(W / 100, H / 100), dpi=100)
ax_top = fig.add_axes([75 / W, 1 - 729 / H, 862 / W, 680 / H])
ax_bot = fig.add_axes([75 / W, 1 - 1511 / H, 862 / W, 680 / H])

panels = [
    (ax_top, [(a_t_A, a_A), (a_t_B, a_B), (a_t_C, a_C), (a_t_D, a_D)]),
    (ax_bot, [(b_t_A, b_A), (b_t_B, b_B), (b_t_C, b_C), (b_t_D, b_D)]),
]

# legend box (axes fraction) and where its content begins
LEG_BOX = (0.2796, 0.0132, 0.9896 - 0.2796, 0.1810 - 0.0132)
LEG_ANCHOR = (0.2923, 0.0150)

for i, (ax, series) in enumerate(panels):
    handles = []
    for (t, v), st, lab in zip(series, styles, legend_labels):
        h, = ax.plot(t, v, label=lab, **st)
        handles.append(h)
    ax.set_xlim(0, 10)
    ax.set_ylim(0, y_limits[i])
    ax.set_xticks(x_ticks)
    ax.yaxis.set_major_locator(MultipleLocator(2))
    ax.tick_params(direction="in", top=True, right=True, length=6, width=0.8,
                   labelsize=12.5, pad=6)
    for lbl in ax.get_xticklabels() + ax.get_yticklabels():
        lbl.set_fontfamily(TICKFONT)
    ax.grid(True, linestyle=(0, (1, 5)), color="0.2", linewidth=0.8)
    for sp in ax.spines.values():
        sp.set_linewidth(1.0)
    ax.set_title(titles[i], fontfamily=SERIF, fontsize=20.5, pad=10)
    ax.set_xlabel("Time in seconds", fontfamily=SERIF, fontsize=21, labelpad=3)
    ax.set_ylabel(r"$\Delta SIR_{\rm seg}$ in dB", fontfamily=SERIF, fontsize=24, labelpad=2)

    frame = Rectangle(LEG_BOX[:2], LEG_BOX[2], LEG_BOX[3], transform=ax.transAxes,
                      facecolor="white", edgecolor="black", linewidth=1.0, zorder=4.9)
    ax.add_patch(frame)
    leg = ax.legend(handles=handles, loc="lower left", bbox_to_anchor=LEG_ANCHOR,
                    prop={"family": SERIF, "size": 18.5},
                    handlelength=2.26, handletextpad=0.27, labelspacing=0.0,
                    borderpad=0.0, borderaxespad=0.0, frameon=False)
    leg.set_zorder(5)

fig.savefig("out.png", dpi=100)
